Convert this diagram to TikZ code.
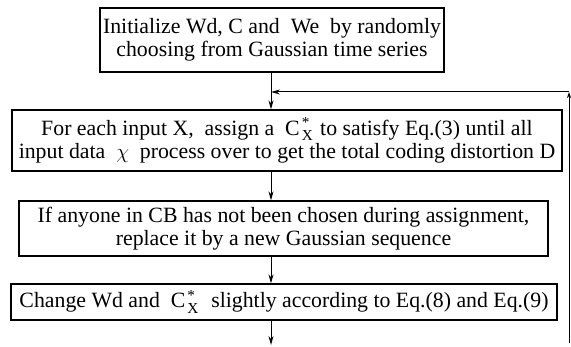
\documentclass[tikz,border=0pt]{standalone}
\usepackage{amsmath}
\usepackage{fontspec}
\setmainfont{Liberation Serif}
\usetikzlibrary{arrows.meta}
\newcommand{\cxs}{C\kern2pt$^{\text{*}}_{\text{X}}$\kern1.5pt}
\begin{document}
\begin{tikzpicture}[x=1pt,y=-1pt,
  stepbox/.style={draw,line width=1.3pt,inner sep=0pt,align=center,font=\fontsize{21.8}{23.5}\selectfont},
  flow/.style={line width=1pt,-{Stealth[length=9pt,width=5pt]}}]
\useasboundingbox (0,0) rectangle (571,347);
\node[stepbox,minimum width=344pt,minimum height=64pt] (b1) at (272,40)
  {Initialize Wd, C and\ \ We\ \ by randomly\\choosing from Gaussian time series};
\node[stepbox,minimum width=550pt,minimum height=61pt] (b2) at (287,140.5)
  {For each input X,\ \ assign a\ \ \cxs\ to satisfy Eq.(3) until all\\input data\ \ $\chi$\ \ process over to get the total coding distortion D};
\node[stepbox,minimum width=529pt,minimum height=55pt] (b3) at (283.5,228.5)
  {If anyone in CB has not been chosen during assignment,\\replace it by a new Gaussian sequence};
\node[stepbox,minimum width=546pt,minimum height=36pt] (b4) at (284,302)
  {Change Wd and\ \ \cxs\ \ slightly according to Eq.(8) and Eq.(9)};
\coordinate (ax) at (271,0);
\coordinate (fb) at (569,92);
\coordinate (fbb) at (569,343);
\coordinate (endp) at (271,345);
\draw[flow] (b1.south -| ax) -- (b2.north -| ax);
\draw[flow] (b2.south -| ax) -- (b3.north -| ax);
\draw[flow] (b3.south -| ax) -- (b4.north -| ax);
\draw[flow] (b4.south -| ax) -- (endp);
\draw[line width=1pt,-{Stealth[length=6pt,width=4pt]}] (fbb) -- (fb);
\draw[flow] (fb) -- (fb -| ax);
\end{tikzpicture}
\end{document}
